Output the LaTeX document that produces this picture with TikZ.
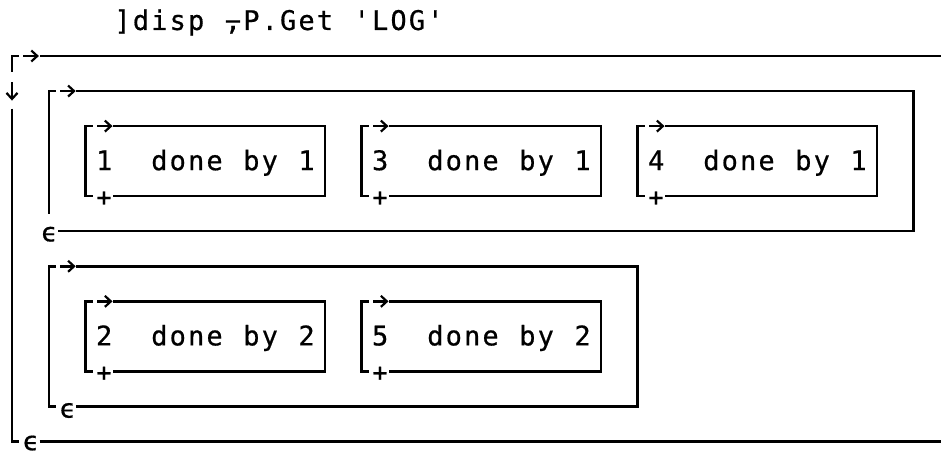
\documentclass[tikz,border=0pt]{standalone}
\usepackage{fontspec}
\setmonofont[FakeBold=0.6]{DejaVu Sans Mono}
\usetikzlibrary{arrows.meta}
\ExplSyntaxOn
% one character per 18.4pt cell; "_" stands for an empty cell
\NewDocumentCommand\aplcells{m}{\str_map_inline:nn{#1}{\str_if_eq:nnTF{##1}{_}{\makebox[18.4pt]{}}{\makebox[18.4pt]{##1}}}}
\ExplSyntaxOff
\newcommand\aplx[1]{(12+18.4*(#1))}
\newcommand\aply[1]{(56+35.05*((#1)-1))}
\tikzset{
  box/.style={line width=2.4pt, line cap=butt, line join=miter},
  arr/.style={line width=2.4pt, -{Straight Barb[length=6pt,width=11pt,line width=2.2pt]}},
  txt/.style={font=\ttfamily\fontsize{27}{27}\selectfont, inner sep=0pt, anchor=base west},
  plus/.style={font=\ttfamily\fontsize{25}{25}\selectfont, inner sep=0pt},
  eps/.style={font=\ttfamily\fontsize{26}{26}\selectfont, inner sep=0pt},
}
% inner box: #1 name, #2 left col, #3 top row, #4 text
\newcommand\aplbox[4]{%
  \coordinate (#1-nw) at ({\aplx{#2}},{\aply{#3}});
  \coordinate (#1-se) at ({\aplx{#2+13}},{\aply{#3+2}});
  \draw[box] ({\aplx{#2}+7},{\aply{#3}}) -- (#1-nw) -- (#1-nw |- #1-se) -- ++(7,0);
  \draw[box] ({\aplx{#2+1}+9.2},{\aply{#3}}) -- (#1-nw -| #1-se) -- (#1-se) -- ({\aplx{#2+1}+9.2},{\aply{#3+2}});
  \draw[arr] ({\aplx{#2+1}-7},{\aply{#3}}) -- ({\aplx{#2+1}+8.5},{\aply{#3}});
  \node[plus] (#1-plus) at ({\aplx{#2+1}},{\aply{#3+2}+2.5}) {+};
  \node[txt] (#1-text) at ({\aplx{#2+1}-9.2},{\aply{#3+1}+9}) {\aplcells{#4}};
}
\begin{document}
\begin{tikzpicture}[x=1pt,y=-1pt]
\fill[white] (0,0) rectangle (941,452);
\useasboundingbox (0,0) rectangle (941,452);

% title
\node[txt] (title) at ({\aplx{6}-9.2},{\aply{0}+9}) {\aplcells{]disp_⍪P.Get_'LOG'}};

% outer box (right side off the picture)
\coordinate (o-nw) at ({\aplx{0}},{\aply{1}});
\coordinate (o-sw) at ({\aplx{0}},{\aply{12}});
\draw[box] (941,{\aply{1}}) -- ({\aplx{1}+9.2},{\aply{1}});
\draw[box] ({\aplx{0}+7},{\aply{1}}) -- (o-nw) -- ({\aplx{0}},{\aply{1}+16});
\draw[arr] ({\aplx{1}-7},{\aply{1}}) -- ({\aplx{1}+8.5},{\aply{1}});
\draw[arr] ({\aplx{0}},{\aply{2}-9}) -- ({\aplx{0}},{\aply{2}+9.5});
\draw[box] ({\aplx{0}},{\aply{2}+17.5}) -- (o-sw) -- ++(7,0);
\node[eps] (o-eps) at ({\aplx{1}},{\aply{12}+1.5}) {ϵ};
\draw[box] ({\aplx{1}+9.2},{\aply{12}}) -- (941,{\aply{12}});

% group A (row 2 .. row 6, cols 2 .. 49)
\coordinate (a-nw) at ({\aplx{2}},{\aply{2}});
\coordinate (a-se) at ({\aplx{49}},{\aply{6}});
\draw[box] ({\aplx{2}+7},{\aply{2}}) -- (a-nw) -- ({\aplx{2}},{\aply{5}+17.5});
\draw[arr] ({\aplx{3}-7},{\aply{2}}) -- ({\aplx{3}+8.5},{\aply{2}});
\draw[box] ({\aplx{3}+9.2},{\aply{2}}) -- (a-nw -| a-se) -- (a-se) -- ({\aplx{2}+9.2},{\aply{6}});
\node[eps] (a-eps) at ({\aplx{2}},{\aply{6}+3}) {ϵ};
\aplbox{b1}{4}{3}{1__done_by_1}
\aplbox{b3}{19}{3}{3__done_by_1}
\aplbox{b4}{34}{3}{4__done_by_1}

% group B (row 7 .. row 11, cols 2 .. 34)
\coordinate (g-nw) at ({\aplx{2}},{\aply{7}});
\coordinate (g-se) at ({\aplx{34}},{\aply{11}});
\draw[box] ({\aplx{2}+7},{\aply{7}}) -- (g-nw) -- (g-nw |- g-se) -- ++(7,0);
\draw[arr] ({\aplx{3}-7},{\aply{7}}) -- ({\aplx{3}+8.5},{\aply{7}});
\draw[box] ({\aplx{3}+9.2},{\aply{7}}) -- (g-nw -| g-se) -- (g-se) -- ({\aplx{3}+9.2},{\aply{11}});
\node[eps] (g-eps) at ({\aplx{3}},{\aply{11}+4}) {ϵ};
\aplbox{b2}{4}{8}{2__done_by_2}
\aplbox{b5}{19}{8}{5__done_by_2}
\end{tikzpicture}
\end{document}
